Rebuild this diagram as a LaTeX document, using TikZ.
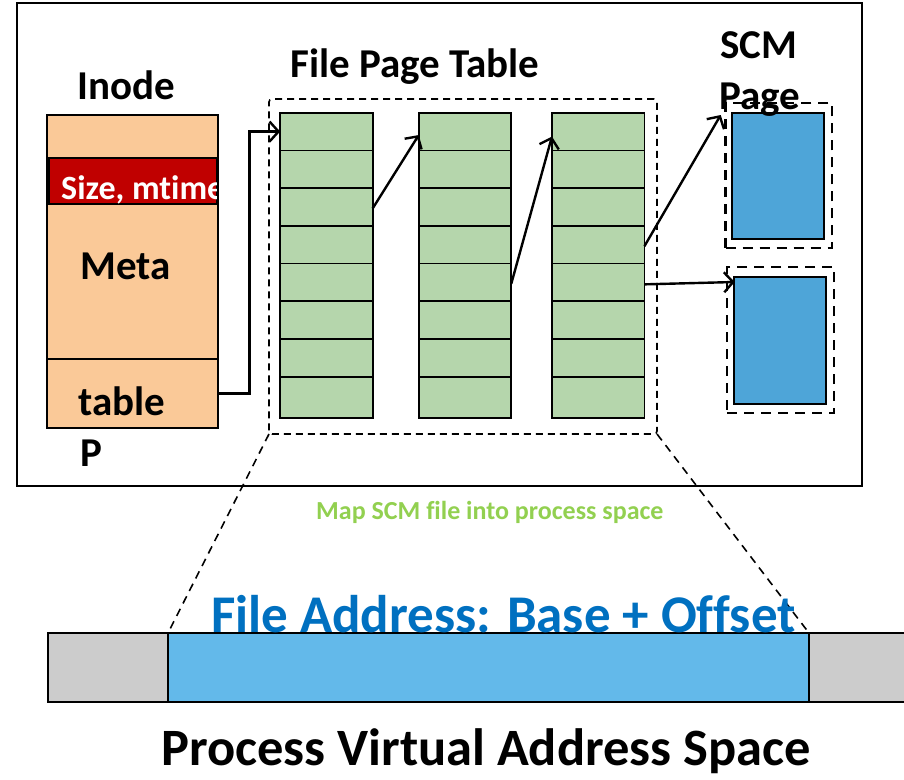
\documentclass[tikz,border=0pt]{standalone}
\usepackage{fontspec}
\setmainfont{Carlito}[Ligatures={NoCommon}]
\usetikzlibrary{arrows.meta,calc}
\definecolor{peach}{HTML}{FAC998}
\definecolor{darkred}{HTML}{C00000}
\definecolor{cellgreen}{HTML}{B5D6AC}
\definecolor{pageblue}{HTML}{4EA5D8}
\definecolor{addrblue}{HTML}{63B9EA}
\definecolor{addrgray}{HTML}{CCCCCC}
\definecolor{txtblue}{HTML}{0070C0}
\definecolor{txtgreen}{HTML}{92D050}
\begin{document}
\begin{tikzpicture}[x=1pt,y=-1pt,
  box/.style={draw=black, line width=1.8pt, inner sep=0pt, outer sep=0pt},
  cell/.style={box, fill=cellgreen, minimum width=92.5pt},
  lbl/.style={font=\fontsize{41}{41}\selectfont\bfseries, inner sep=0pt, anchor=base west},
  ptr/.style={draw=black, line width=2.4pt, -{Straight Barb[length=9pt,width=20pt]}},
  dashbox/.style={draw=black, line width=1.6pt, dash pattern=on 7pt off 5pt, inner sep=0pt, outer sep=0pt},
  pagedash/.style={draw=black, line width=2.6pt, dash pattern=on 10pt off 7pt, inner sep=0pt, outer sep=0pt}]
\useasboundingbox (0,0) rectangle (904,779);

% outer frame
\node[box, line width=1.5pt, minimum width=845pt, minimum height=483pt] (frame) at (439.5,244.5) {};

% inode
\node[box, fill=peach, minimum width=171.6pt, minimum height=312.7pt] (inode) at (132.5,271.35) {};
\node[box, minimum width=171.6pt, minimum height=68.4pt] (tbl) at (132.5,393.5) {};
\node[box, fill=darkred, minimum width=168pt, minimum height=46.3pt] (sizebox) at (132.7,180.85) {};
\begin{scope}
  \clip (sizebox.south west) rectangle (sizebox.north east);
  \node[font=\fontsize{34}{34}\selectfont\bfseries, text=white, inner sep=0pt, anchor=base west] (sizetxt) at (61,199.3) {Size, mtime};
\end{scope}

% file page table
\node[dashbox, rounded corners=3pt, minimum width=388pt, minimum height=335pt] (fpt) at (463,266.5) {};
\foreach \c/\cx in {1/326.4, 2/465, 3/598.2}{
  \foreach \r in {1,...,7}{
    \node[cell, minimum height=37.7pt] (c\c r\r) at (\cx, {112.7+37.7*(\r-0.5)}) {};
  }
  \node[cell, minimum height=41.1pt] (c\c r8) at (\cx, 397.15) {};
}

% SCM pages
\node[pagedash, minimum width=106.3pt, minimum height=145pt] (scmd1) at (778.85,175.5) {};
\node[box, fill=pageblue, minimum width=92.6pt, minimum height=126pt] (scm1) at (778,176) {};
\node[pagedash, minimum width=107pt, minimum height=146pt] (scmd2) at (780.5,340) {};
\node[box, fill=pageblue, minimum width=92.3pt, minimum height=127pt] (scm2) at (779.85,340.5) {};

% pointers
\draw[ptr] (tbl.east) -- ++(31,0) |- (c1r1.west);
\draw[ptr] ([yshift=-1.5pt]c1r3.east) -- ([yshift=-3.5pt]c2r1.west);
\draw[ptr] ([yshift=-1.5pt]c2r5.east) -- ([yshift=-5pt]c3r1.west);
\draw[ptr] ([yshift=-1.5pt]c3r4.east) -- ([xshift=-11pt,yshift=-2pt]scm1.north west);
\draw[ptr] ([yshift=-2pt]c3r5.east) -- ([xshift=1pt,yshift=-5pt]scm2.north west);

% address space
\node[box, fill=addrgray, minimum width=862pt, minimum height=69pt] (gray) at (479,667.5) {};
\node[box, fill=addrblue, minimum width=641pt, minimum height=69pt] (addr) at (488.5,667.5) {};

% mapping lines
\draw[line width=1.6pt, dash pattern=on 8pt off 6pt] (fpt.south west) -- (addr.north west);
\draw[line width=1.6pt, dash pattern=on 8pt off 6pt] (fpt.south east) -- (addr.north east);

% labels
\node[lbl] (inodelbl) at (77,99.3) {Inode};
\node[lbl] (metalbl) at (80,279.3) {Meta};
\node[lbl] (tablelbl) at (78,415) {table};
\node[lbl] (plbl) at (80,466.7) {P};
\node[lbl] (fptlbl) at (290,77) {File Page Table};
\node[lbl] (scmlbl) at (720,58.3) {SCM};
\node[lbl] (pagelbl) at (719,109) {Page};
\node[font=\fontsize{26}{26}\selectfont\bfseries, text=txtgreen, inner sep=0pt, anchor=base west] (maplbl) at (316,519) {Map SCM file into process space};
\node[font=\fontsize{53}{53}\selectfont\bfseries, text=txtblue, inner sep=0pt, anchor=base west] (addrlbl) at (211,632) {File Address: Base + Offset};
\node[font=\fontsize{52.5}{52.5}\selectfont\bfseries, inner sep=0pt, anchor=base west] (pvas) at (161,765) {Process Virtual Address Space};
\end{tikzpicture}
\end{document}
